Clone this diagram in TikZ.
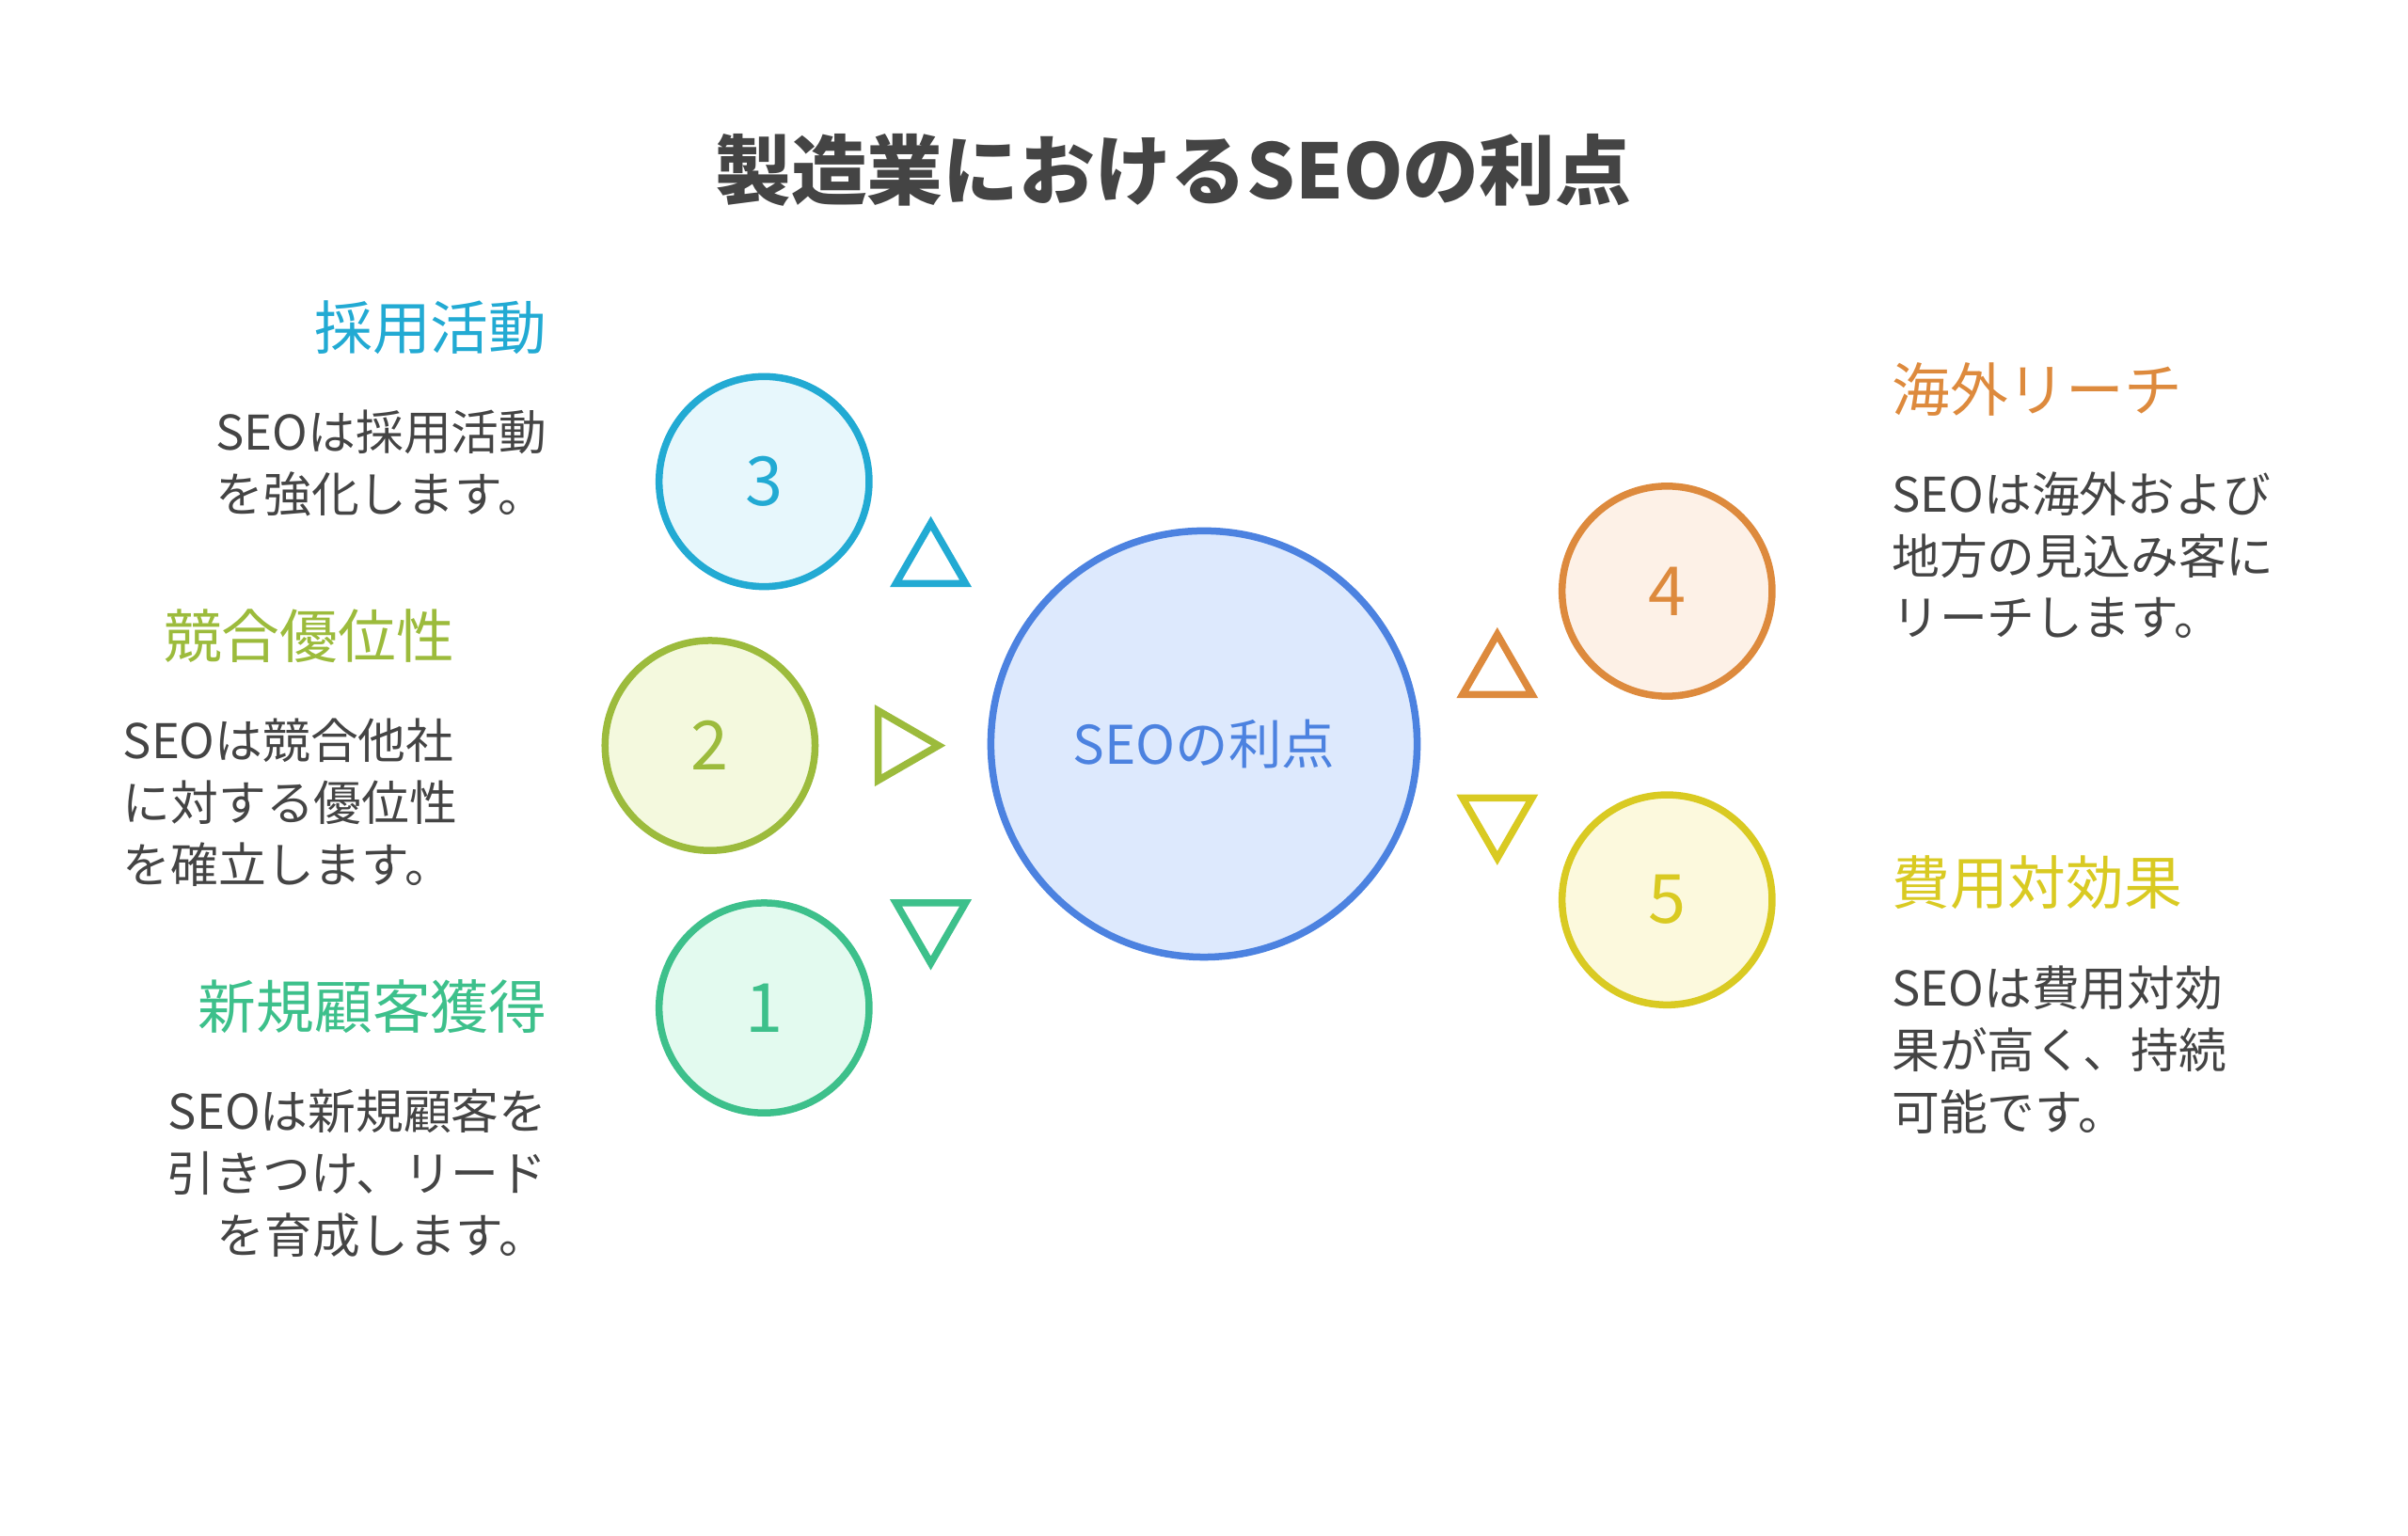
\documentclass[tikz,border=0pt]{standalone}
\usepackage{fontspec}
\setmainfont{Noto Sans CJK JP}
\usetikzlibrary{positioning,shapes.geometric}
\definecolor{cyanS}{HTML}{22AAD3}\definecolor{cyanF}{HTML}{E7F7FC}
\definecolor{limeS}{HTML}{9CBB3C}\definecolor{limeF}{HTML}{F4F9DE}
\definecolor{grnS}{HTML}{3DC08B}\definecolor{grnF}{HTML}{E3FAEF}
\definecolor{orgS}{HTML}{DD8A3D}\definecolor{orgF}{HTML}{FDF1E7}
\definecolor{yelS}{HTML}{D9CA22}\definecolor{yelF}{HTML}{FCF9DD}
\definecolor{bluS}{HTML}{4C82E0}\definecolor{bluF}{HTML}{DDE9FD}
\definecolor{txt}{HTML}{444444}
\tikzset{
  num/.style   ={circle, draw=#1S, fill=#1F, line width=1.3pt, minimum size=1.36cm, text=#1S, font=\fontsize{12.5}{13}\selectfont},
  tri/.style   ={regular polygon, regular polygon sides=3, draw=#1S, line width=1.3pt, minimum size=0.52cm, inner sep=0pt},
  head/.style  ={text=#1S, font=\fontsize{10.7}{13}\selectfont, inner sep=0pt},
  desc/.style  ={text=txt, font=\fontsize{8.8}{11.4}\selectfont, inner sep=0pt}
}
\begin{document}
\begin{tikzpicture}[x=0.01cm,y=-0.01cm]
\useasboundingbox (0,0) rectangle (1560,995);
\node[text=txt, font=\bfseries\fontsize{14}{16}\selectfont] (title) at (760,110) {製造業におけるSEOの利点};
% hub
\node[circle, draw=bluS, fill=bluF, line width=1.3pt, minimum size=2.76cm, text=bluS, font=\fontsize{9.8}{12}\selectfont] (hub) at (780,482) {SEOの利点};
% left side
\node[num=cyan] (c3) at (495,312) {3};
\node[num=lime] (c2) at (460,483) {2};
\node[num=grn]  (c1) at (495,653) {1};
\node[tri=cyan] (t3) at (603,365) {};
\node[tri=lime, rotate=-90] (t2) at (582,483) {};
\node[tri=grn, rotate=180] (t1) at (603,598) {};
\node[head=cyan, anchor=east] (h3) at (355,212) {採用活動};
\node[desc, align=left, anchor=north east] (d3) at (355,265) {SEOは採用活動\\を強化します。};
\node[head=lime, anchor=east] (h2) at (295,412) {競合優位性};
\node[desc, align=left, anchor=north east] (d2) at (297,465) {SEOは競合他社\\に対する優位性\\を確立します。};
\node[head=grn, anchor=east] (h1) at (355,652) {新規顧客獲得};
\node[desc, align=right, anchor=north east] (d1) at (355,705) {SEOは新規顧客を\\引きつけ、リード\\を育成します。};
% right side
\node[num=org] (c4) at (1080,383) {4};
\node[num=yel] (c5) at (1080,583) {5};
\node[tri=org] (t4) at (970,437) {};
\node[tri=yel, rotate=180] (t5) at (970,530) {};
\node[head=org, anchor=west] (h4) at (1225,252) {海外リーチ};
\node[desc, align=left, anchor=north west] (d4) at (1225,305) {SEOは海外および\\地方の見込み客に\\リーチします。};
\node[head=yel, anchor=west] (h5) at (1225,572) {費用対効果};
\node[desc, align=left, anchor=north west] (d5) at (1225,625) {SEOは費用対効\\果が高く、持続\\可能です。};
\end{tikzpicture}
\end{document}
